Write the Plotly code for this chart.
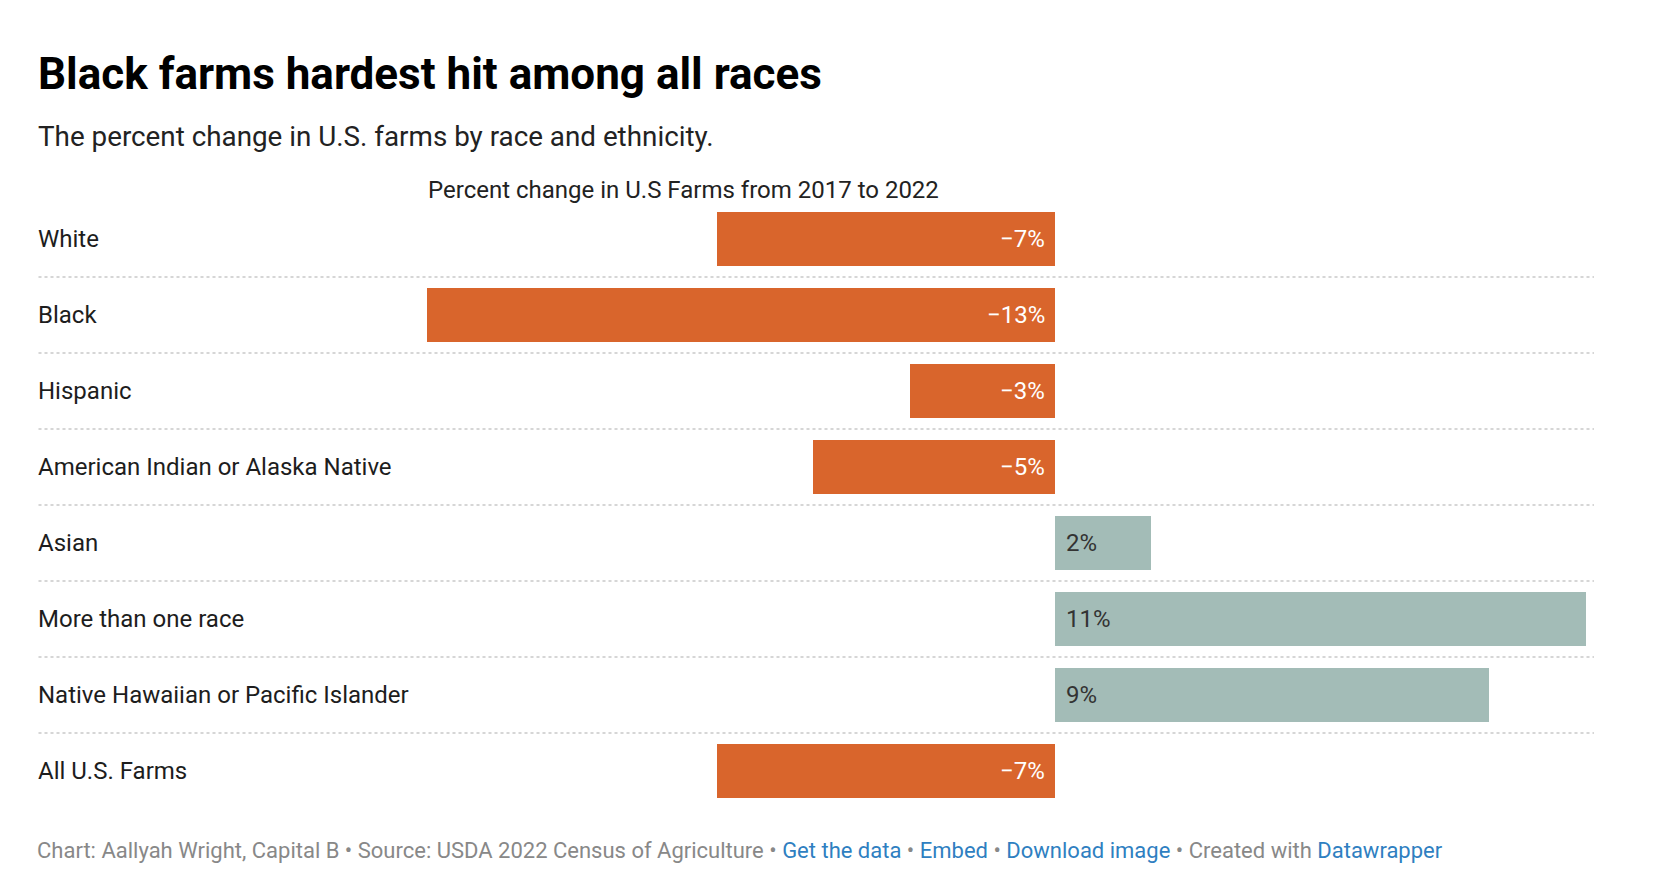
import plotly.graph_objects as go

categories = ["White", "Black", "Hispanic", "American Indian or Alaska Native",
              "Asian", "More than one race", "Native Hawaiian or Pacific Islander",
              "All U.S. Farms"]
values = [-7, -13, -3, -5, 2, 11, 9, -7]

title = "Black farms hardest hit among all races"
subtitle = "The percent change in U.S. farms by race and ethnicity."
header = "Percent change in U.S Farms from 2017 to 2022"

NEG = "#d9652c"
POS = "#a3bcb7"
OFF = 8  # default page body margin
W, H = 1666 - OFF, 894 - OFF
L, R, T, B = 427 - OFF, 80, 201 - OFF, 85
pw, ph = W - L - R, H - T - B

def px_x(p):
    return (p - OFF - L) / pw

def px_y(p):
    return (H - B - (p - OFF)) / ph

def fmt(v):
    return ("\u2212" if v < 0 else "") + f"{abs(v)}%"

fig = go.Figure(go.Bar(
    x=values, y=categories, orientation="h",
    marker=dict(color=[NEG if v < 0 else POS for v in values], line=dict(width=0)),
    width=0.71, hoverinfo="skip",
))

ann = []
for c, v in zip(categories, values):
    ann.append(dict(x=px_x(36), xref="paper", y=c, yref="y", text=c,
                    xanchor="left", yanchor="middle", showarrow=False,
                    font=dict(family="Roboto", size=24, color="#1d1d1d")))
    ann.append(dict(x=0, xref="x", y=c, yref="y", text=fmt(v),
                    xanchor="right" if v < 0 else "left",
                    xshift=-8 if v < 0 else 9, yanchor="middle", showarrow=False,
                    font=dict(family="Roboto", size=24,
                              color="#ffffff" if v < 0 else "#333333")))

ann.append(dict(x=px_x(36), xref="paper", y=px_y(74), yref="paper",
                text="<b>" + title + "</b>", xanchor="left", yanchor="middle",
                showarrow=False, font=dict(family="Roboto", size=44, color="#000000")))
ann.append(dict(x=px_x(36), xref="paper", y=px_y(136), yref="paper",
                text=subtitle, xanchor="left", yanchor="middle",
                showarrow=False, font=dict(family="Roboto", size=27.8, color="#222222")))
ann.append(dict(x=px_x(426), xref="paper", y=px_y(190), yref="paper",
                text=header, xanchor="left", yanchor="middle",
                showarrow=False, font=dict(family="Roboto", size=24, color="#222222")))

link = "#2f7fc1"
footer = ("Chart: Aallyah Wright, Capital B \u2022 Source: USDA 2022 Census of Agriculture \u2022 "
          f"<span style='color:{link}'>Get the data</span> \u2022 "
          f"<span style='color:{link}'>Embed</span> \u2022 "
          f"<span style='color:{link}'>Download image</span> \u2022 Created with "
          f"<span style='color:{link}'>Datawrapper</span>")
ann.append(dict(x=px_x(35), xref="paper", y=px_y(850), yref="paper",
                text=footer, xanchor="left", yanchor="middle",
                showarrow=False, font=dict(family="Roboto", size=22, color="#888888")))

shapes = []
for i in range(len(categories) - 1):
    shapes.append(dict(type="line", xref="paper", yref="y",
                       x0=px_x(38.5), x1=px_x(1594), y0=i + 0.5, y1=i + 0.5,
                       line=dict(color="#d6d6d6", width=2, dash="dot")))

fig.update_layout(
    width=W, height=H,
    margin=dict(l=L, r=R, t=T, b=B, pad=0),
    paper_bgcolor="white", plot_bgcolor="white",
    showlegend=False,
    xaxis=dict(range=[-13, 11], visible=False, fixedrange=True),
    yaxis=dict(range=[7.5, -0.5], visible=False, fixedrange=True,
               type="category", categoryorder="array", categoryarray=categories),
    annotations=ann, shapes=shapes,
    bargap=0,
)

fig.write_html("out.html", config={"displayModeBar": False})
